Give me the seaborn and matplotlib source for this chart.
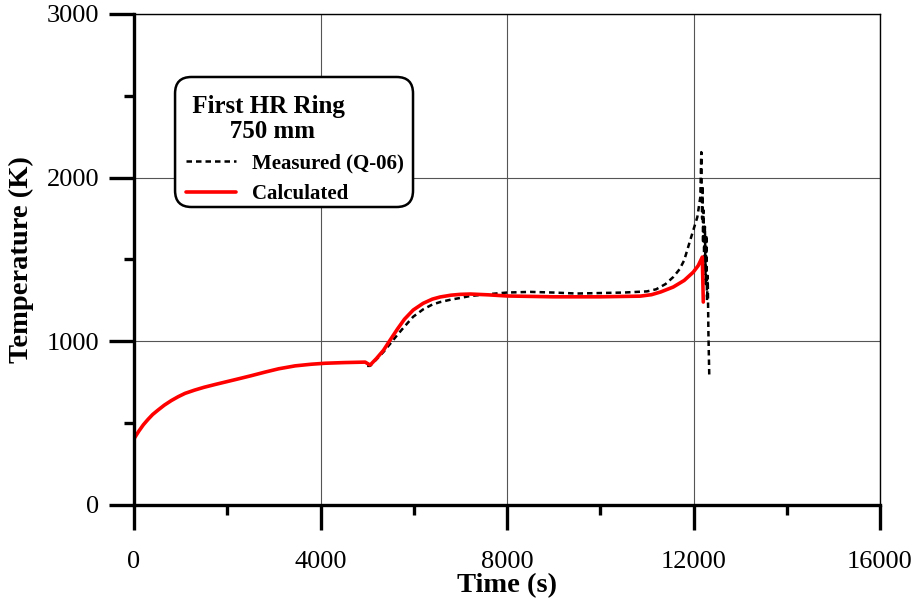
import numpy as np
import pandas as pd
import matplotlib
matplotlib.use("Agg")
import matplotlib.pyplot as plt
import seaborn as sns
from matplotlib.ticker import MultipleLocator
from matplotlib.patches import FancyBboxPatch

# Calculated (red)
calc_t = [0, 100, 200, 300, 400, 515, 650, 800, 950, 1094, 1300, 1500, 1750, 1953,
          2200, 2500, 2811, 3100, 3455, 3800, 4099, 4500, 4957, 5064, 5200, 5350, 5494,
          5650, 5800, 5987, 6200, 6400, 6567, 6800, 7000, 7210, 7600, 8000, 9000, 10000,
          10858, 11100, 11300, 11567, 11800, 11996, 12100, 12189, 12210]
calc_T = [405, 450, 490, 523, 553, 580, 610, 638, 662, 682, 702, 719, 737, 751,
          768, 789, 812, 832, 850, 860, 866, 870, 873, 855, 895, 945, 1008,
          1075, 1135, 1191, 1232, 1258, 1271, 1282, 1287, 1289, 1284, 1277, 1272, 1272,
          1276, 1285, 1302, 1332, 1372, 1423, 1462, 1515, 1240]

# Measured (Q-06) (black dashed)
meas_t = [5000, 5064, 5200, 5350, 5494, 5650, 5800, 5987, 6200, 6400, 6567, 6800, 7000,
          7210, 7600, 8000, 8500, 9000, 9500, 10000, 10500, 11000, 11200, 11400, 11567,
          11700, 11800, 11931, 12082, 12146, 12167, 12185, 12195, 12205, 12215, 12230,
          12245, 12260, 12275, 12290, 12305, 12320, 12339]
meas_T = [850, 850, 890, 935, 985, 1040, 1090, 1150, 1195, 1225, 1240, 1255, 1265,
          1277, 1288, 1298, 1302, 1298, 1292, 1295, 1298, 1305, 1318, 1350, 1393,
          1440, 1495, 1619, 1759, 1881, 2156, 1750, 1950, 1600, 1800, 1450,
          1700, 1350, 1650, 1250, 1400, 1050, 776]

calc = pd.DataFrame({"t": calc_t, "T": calc_T})
meas = pd.DataFrame({"t": meas_t, "T": meas_T})

sns.set_theme(style="white")
plt.rcParams["font.family"] = ["Liberation Serif", "DejaVu Serif"]
plt.rcParams["text.color"] = "black"
plt.rcParams["axes.labelcolor"] = "black"
plt.rcParams["xtick.color"] = "black"
plt.rcParams["ytick.color"] = "black"

fig = plt.figure(figsize=(9.18, 6.06), dpi=100)
ax = fig.add_axes([0.146, 0.1667, 0.8126, 0.8102])

sns.lineplot(data=meas, x="t", y="T", ax=ax, color="black", lw=1.8,
             linestyle=(0, (2.2, 1.6)), sort=False, label="Measured (Q-06)")
sns.lineplot(data=calc, x="t", y="T", ax=ax, color="#ff0000", lw=2.6,
             sort=False, label="Calculated")

ax.set_xlim(0, 16000)
ax.set_ylim(0, 3000)
ax.xaxis.set_major_locator(MultipleLocator(4000))
ax.xaxis.set_minor_locator(MultipleLocator(2000))
ax.yaxis.set_major_locator(MultipleLocator(1000))
ax.yaxis.set_minor_locator(MultipleLocator(500))
ax.grid(True, which="major", color="#555555", lw=0.8)
ax.tick_params(which="both", direction="out", colors="black", labelsize=19,
               bottom=True, left=True, width=2.4)
ax.tick_params(which="major", length=18)
ax.tick_params(which="minor", length=7.5)
ax.tick_params(axis="x", pad=15)
ax.tick_params(axis="y", pad=7)

for s in ["left", "bottom"]:
    ax.spines[s].set_linewidth(2.4)
    ax.spines[s].set_color("black")
for s in ["top", "right"]:
    ax.spines[s].set_linewidth(1.0)
    ax.spines[s].set_color("black")

ax.set_xlabel("Time (s)", fontsize=20.5, fontweight="bold", labelpad=0)
ax.set_ylabel("Temperature (K)", fontsize=20.5, fontweight="bold", labelpad=9)

# legend frame (rounded box)
box = FancyBboxPatch((0.055, 0.6069), 0.319, 0.2648,
                     boxstyle="round,pad=0,rounding_size=0.022",
                     mutation_aspect=1.52, transform=ax.transAxes,
                     facecolor="white", edgecolor="black", lw=1.8, zorder=4)
ax.add_patch(box)

leg = ax.legend(title=" First HR Ring\n       750 mm", loc="upper left",
                bbox_to_anchor=(0.0697, 0.836), frameon=False,
                prop={"weight": "bold", "size": 15}, handlelength=2.4,
                handletextpad=0.77, borderpad=0, labelspacing=0.52,
                alignment="left", borderaxespad=0)
leg.set_zorder(5)
title = leg.get_title()
title.set_fontsize(18)
title.set_fontweight("bold")
title.set_multialignment("left")
title.set_linespacing(1.12)

fig.savefig("out.png", dpi=100)
